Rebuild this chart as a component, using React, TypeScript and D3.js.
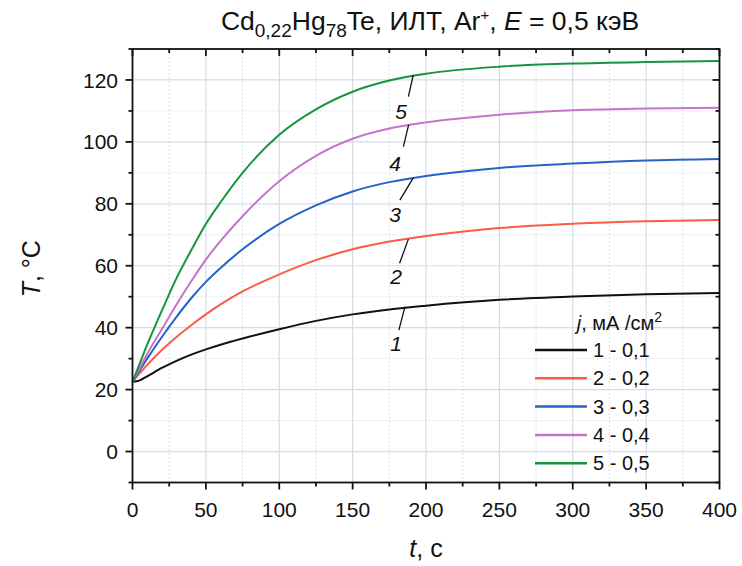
import React, { useEffect, useRef } from 'react'
import * as d3 from 'd3'

// time, s
const times = [0, 5, 10, 20, 30, 40, 50, 60, 75, 100, 125, 150, 175, 200, 250, 300, 350, 400]

// temperature, °C, one array per current density
const curve1 = [22.5, 23, 24.3, 27, 29.3, 31.3, 33, 34.5, 36.5, 39.5, 42.2, 44.3, 45.9, 47.1, 49, 50.1, 50.8, 51.2]
const curve2 = [22.5, 25.3, 28, 32.8, 37, 40.8, 44.3, 47.5, 51.7, 57.2, 61.8, 65.3, 67.8, 69.6, 72.2, 73.6, 74.4, 74.8]
const curve3 = [22.5, 26.3, 30, 37, 43.5, 49.5, 54.8, 59.3, 65.3, 73.5, 79.5, 84, 87, 89, 91.6, 93, 94, 94.5]
const curve4 = [22.5, 27, 31.5, 39.5, 47.5, 55, 62, 68, 76, 87.3, 95.5, 101, 104.3, 106.3, 108.8, 110.2, 110.8, 111]
const curve5 = [22.5, 28.5, 34.5, 45.5, 56, 65, 73.5, 80.5, 90, 102.3, 110.5, 116.2, 119.8, 122, 124.3, 125.3, 125.8, 126.1]

const seriesNames = ['1 - 0,1', '2 - 0,2', '3 - 0,3', '4 - 0,4', '5 - 0,5']
const seriesColors = ['#111111', '#fa5c45', '#2563c9', '#c575c9', '#17943e']

// curve number labels: text position and leader line (data units)
const labelText = ['1', '2', '3', '4', '5']
const labelPos = [[179.6, 34.9], [179.6, 56.6], [178.9, 76.4], [178.9, 93.1], [183, 109.8]]
const leaderFrom = [[181.5, 39.2], [182, 60.8], [182.2, 81.2], [184.6, 98.5], [188, 114.6]]
const leaderTo = [[185.7, 46.8], [188, 68.6], [191.3, 88.4], [188.2, 105.6], [191.3, 121.6]]

const xTicks = [0, 50, 100, 150, 200, 250, 300, 350, 400]
const yTicks = [0, 20, 40, 60, 80, 100, 120]

const App = () => {
    const ref = useRef(null)

    useEffect(() => {
        d3.select(ref.current).selectAll('*').remove()

        const W = 742, H = 566
        const left = 132.5, right = 719.5, top = 49, bottom = 482.5
        const font = 'Liberation Sans, Arial, sans-serif'

        const svg = d3.select(ref.current)
            .attr('width', W)
            .attr('height', H)
            .attr('viewBox', `0 0 ${W} ${H}`)

        const x = d3.scaleLinear().domain([0, 400]).range([left, right])
        const y = d3.scaleLinear().domain([-10, 130]).range([bottom, top])

        svg.append('rect').attr('width', W).attr('height', H).attr('fill', '#fff')

        const grid = svg.append('g')
        // minor grid, dotted
        d3.range(25, 400, 50).forEach(v => {
            grid.append('line')
                .attr('x1', x(v)).attr('x2', x(v)).attr('y1', top).attr('y2', bottom)
                .attr('stroke', '#d6e2ee').attr('stroke-width', 1).attr('stroke-dasharray', '2,2')
        })
        d3.range(-10, 131, 20).forEach(v => {
            grid.append('line')
                .attr('x1', left).attr('x2', right).attr('y1', y(v)).attr('y2', y(v))
                .attr('stroke', '#d6e2ee').attr('stroke-width', 1).attr('stroke-dasharray', '2,2')
        })
        // major grid
        xTicks.slice(1, -1).forEach(v => {
            grid.append('line')
                .attr('x1', x(v)).attr('x2', x(v)).attr('y1', top).attr('y2', bottom)
                .attr('stroke', '#d3dde6').attr('stroke-width', 1.2)
        })
        yTicks.forEach(v => {
            grid.append('line')
                .attr('x1', left).attr('x2', right).attr('y1', y(v)).attr('y2', y(v))
                .attr('stroke', '#d3dde6').attr('stroke-width', 1.2)
        })

        // curves
        const allCurves = [curve1, curve2, curve3, curve4, curve5]
        const line = d3.line()
            .x(d => x(d[0]))
            .y(d => y(d[1]))
            .curve(d3.curveMonotoneX)

        allCurves.forEach((c, i) => {
            svg.append('path')
                .datum(times.map((t, k) => [t, c[k]]))
                .attr('d', line)
                .attr('fill', 'none')
                .attr('stroke', seriesColors[i])
                .attr('stroke-width', 2)
        })

        // curve labels
        labelText.forEach((s, i) => {
            svg.append('line')
                .attr('x1', x(leaderFrom[i][0])).attr('y1', y(leaderFrom[i][1]))
                .attr('x2', x(leaderTo[i][0])).attr('y2', y(leaderTo[i][1]))
                .attr('stroke', '#111').attr('stroke-width', 1.3)
            svg.append('text')
                .attr('x', x(labelPos[i][0]))
                .attr('y', y(labelPos[i][1]))
                .attr('dy', '0.35em')
                .attr('text-anchor', 'middle')
                .attr('font-family', font)
                .attr('font-style', 'italic')
                .attr('font-size', 21)
                .attr('fill', '#111')
                .text(s)
        })

        // frame
        svg.append('rect')
            .attr('x', left).attr('y', top)
            .attr('width', right - left).attr('height', bottom - top)
            .attr('fill', 'none').attr('stroke', '#111').attr('stroke-width', 1.8)

        // ticks
        const ticks = svg.append('g').attr('stroke', '#111').attr('stroke-width', 1.8)
        d3.range(0, 401, 25).forEach(v => {
            const len = v % 50 === 0 ? 7 : 4
            ticks.append('line').attr('x1', x(v)).attr('x2', x(v)).attr('y1', bottom).attr('y2', bottom + len)
            ticks.append('line').attr('x1', x(v)).attr('x2', x(v)).attr('y1', top).attr('y2', top + len)
        })
        d3.range(-10, 131, 10).forEach(v => {
            const len = v % 20 === 0 ? 7 : 4
            ticks.append('line').attr('x1', left - len).attr('x2', left).attr('y1', y(v)).attr('y2', y(v))
            ticks.append('line').attr('x1', right - len).attr('x2', right).attr('y1', y(v)).attr('y2', y(v))
        })

        // tick labels
        svg.append('g').selectAll('text')
            .data(xTicks)
            .join('text')
            .attr('x', d => x(d))
            .attr('y', 517)
            .attr('text-anchor', 'middle')
            .attr('font-family', font)
            .attr('font-size', 21)
            .attr('fill', '#111')
            .text(d => d)

        svg.append('g').selectAll('text')
            .data(yTicks)
            .join('text')
            .attr('x', 118)
            .attr('y', d => y(d))
            .attr('dy', '0.36em')
            .attr('text-anchor', 'end')
            .attr('font-family', font)
            .attr('font-size', 21)
            .attr('fill', '#111')
            .text(d => d)

        // axis titles
        const xt = svg.append('text')
            .attr('x', (left + right) / 2)
            .attr('y', 557)
            .attr('text-anchor', 'middle')
            .attr('font-family', font)
            .attr('font-size', 25)
            .attr('fill', '#111')
        xt.append('tspan').attr('font-style', 'italic').text('t')
        xt.append('tspan').text(', с')

        const yt = svg.append('text')
            .attr('transform', `translate(40, ${(top + bottom) / 2 + 3}) rotate(-90)`)
            .attr('text-anchor', 'middle')
            .attr('font-family', font)
            .attr('font-size', 25)
            .attr('fill', '#111')
        yt.append('tspan').attr('font-style', 'italic').text('T')
        yt.append('tspan').text(', °C')

        // title
        const title = svg.append('text')
            .attr('x', 430)
            .attr('y', 30)
            .attr('text-anchor', 'middle')
            .attr('font-family', font)
            .attr('font-size', 26.5)
            .attr('fill', '#111')
        title.append('tspan').text('Cd')
        title.append('tspan').attr('font-size', 19).attr('dy', 7).text('0,22')
        title.append('tspan').attr('dy', -7).text('Hg')
        title.append('tspan').attr('font-size', 19).attr('dy', 7).text('78')
        title.append('tspan').attr('dy', -7).text('Te, ИЛТ, Ar')
        title.append('tspan').attr('font-size', 15).attr('dy', -10).text('+')
        title.append('tspan').attr('dy', 10).text(', ')
        title.append('tspan').attr('font-style', 'italic').text('E')
        title.append('tspan').text(' = 0,5 кэВ')

        // legend
        const lg = svg.append('g')
        const lt = lg.append('text')
            .attr('x', 662)
            .attr('y', 323)
            .attr('dy', '0.35em')
            .attr('text-anchor', 'end')
            .attr('font-family', font)
            .attr('font-size', 20)
            .attr('fill', '#111')
        lt.append('tspan').attr('font-style', 'italic').text('j')
        lt.append('tspan').text(', мА /см')
        lt.append('tspan').attr('font-size', 14).attr('dy', -8).text('2')

        seriesNames.forEach((name, i) => {
            const yy = 350 + i * 28.3
            lg.append('line')
                .attr('x1', 535).attr('x2', 587)
                .attr('y1', yy).attr('y2', yy)
                .attr('stroke', seriesColors[i]).attr('stroke-width', 2.5)
            lg.append('text')
                .attr('x', 593)
                .attr('y', yy)
                .attr('dy', '0.35em')
                .attr('font-family', font)
                .attr('font-size', 20)
                .attr('fill', '#111')
                .text(name)
        })
    }, [])

    return (
        <svg ref={ref} style={{ position: 'absolute', left: 0, top: 0, display: 'block' }} />
    )
}

export default App
